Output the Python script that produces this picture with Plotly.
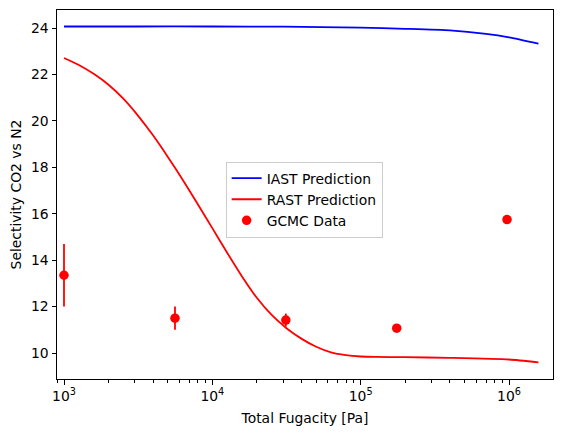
import numpy as np
import plotly.graph_objects as go

# IAST / RAST predictions
iast_p = [1000, 3000, 10000, 30000, 100000, 200000, 400000, 700000, 1000000, 1580000]
iast_sel = [24.07, 24.07, 24.07, 24.06, 24.02, 23.97, 23.9, 23.75, 23.6, 23.33]

rast_p = [1000, 1259, 1585, 1995, 2512, 3162, 3981, 5012, 6310, 7943,
          10000, 12589, 15849, 19953, 25119, 31623, 39811, 50119, 63096,
          79433, 100000, 125893, 199526, 398107, 1000000, 1580000]
rast_sel = [22.71, 22.41, 22.03, 21.56, 20.96, 20.22, 19.38, 18.45, 17.47, 16.43,
            15.38, 14.32, 13.30, 12.38, 11.64, 11.07, 10.62, 10.27, 10.03,
            9.91, 9.85, 9.83, 9.82, 9.79, 9.72, 9.6]

# GCMC data with error bars
gcmc_p = [1000, 5600, 31300, 175000, 970000]
gcmc_sel = [13.35, 11.5, 11.42, 11.07, 15.75]
gcmc_err = [1.35, 0.5, 0.28, 0.05, 0.05]

x_ticks = [1e3, 1e4, 1e5, 1e6]
x_ticktext = ["10<sup>3</sup>", "10<sup>4</sup>", "10<sup>5</sup>", "10<sup>6</sup>"]
minor_ticks = [m * 10 ** e for e in range(2, 7) for m in range(2, 10)]
y_ticks = [10, 12, 14, 16, 18, 20, 22, 24]

FONT = "DejaVu Sans"
FS = 13.9

fig = go.Figure()
fig.add_trace(go.Scatter(
    x=iast_p, y=iast_sel, mode="lines", name="IAST Prediction",
    line=dict(color="blue", width=1.8, shape="spline", smoothing=0.6),
))
fig.add_trace(go.Scatter(
    x=rast_p, y=rast_sel, mode="lines", name="RAST Prediction",
    line=dict(color="red", width=1.8, shape="spline", smoothing=0.6),
))
fig.add_trace(go.Scatter(
    x=gcmc_p, y=gcmc_sel, mode="markers", name="GCMC Data",
    marker=dict(color="red", size=9.5),
    error_y=dict(type="data", array=gcmc_err, color="red", thickness=1.8, width=0),
))

axis_common = dict(
    showline=True, linecolor="black", linewidth=1, mirror=True,
    ticks="outside", ticklen=4.5, tickcolor="black", showgrid=False,
    zeroline=False, automargin=False,
    tickfont=dict(family=FONT, size=FS, color="black"),
)

# page body has an 8px margin, so the figure is 8px smaller and margins shifted
fig.update_layout(
    width=555, height=429,
    margin=dict(l=49, r=10, t=2, b=58),
    paper_bgcolor="white", plot_bgcolor="white",
    font=dict(family=FONT, size=FS, color="black"),
    showlegend=True,
    legend=dict(
        x=0.34, y=0.589, xanchor="left", yanchor="top",
        bgcolor="rgba(255,255,255,0.8)", bordercolor="#cccccc", borderwidth=1,
        font=dict(family=FONT, size=FS), itemwidth=30,
        tracegroupgap=0,
    ),
    xaxis=dict(
        type="log", range=[np.log10(897), np.log10(1.98e6)],
        tickvals=x_ticks, ticktext=x_ticktext,
        minor=dict(tickvals=minor_ticks, ticks="outside", ticklen=2.5, tickcolor="black"),
        title=dict(text="Total Fugacity [Pa]", standoff=10,
                   font=dict(family=FONT, size=FS)),
        **axis_common,
    ),
    yaxis=dict(
        range=[8.88, 24.78], tickvals=y_ticks,
        title=dict(text="Selectivity CO2 vs N2", standoff=8,
                   font=dict(family=FONT, size=FS)),
        **axis_common,
    ),
)

fig.write_html("out.html")
